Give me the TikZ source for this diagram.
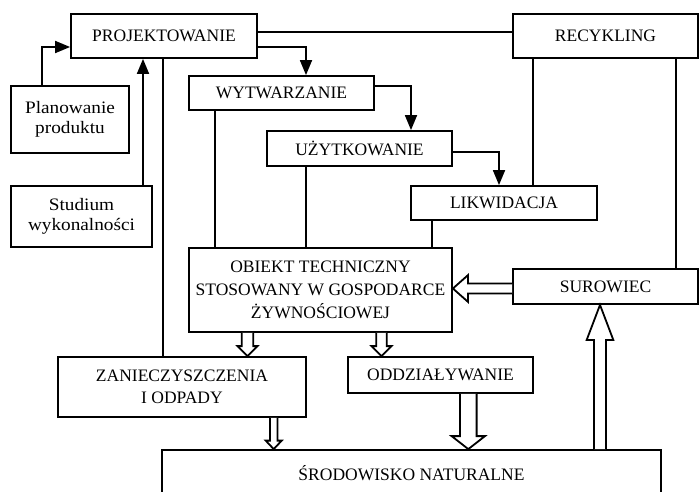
\documentclass[tikz,border=0pt]{standalone}
\usepackage{fontspec}
\setmainfont{Liberation Serif}
\newfontfamily\widefont[FakeStretch=1.1]{Liberation Serif}
\usetikzlibrary{arrows.meta,calc}

% hollow block arrows: #1 start, #2 end, #3 half shaft, #4 half head, #5 head length
\newcommand\hdown[5]{\draw[hollow] let \p1=(#1),\p2=(#2) in
  (\x1-#3pt,\y1) -- (\x1-#3pt,\y2+#5pt) -- (\x1-#4pt,\y2+#5pt) -- (\x1,\y2)
  -- (\x1+#4pt,\y2+#5pt) -- (\x1+#3pt,\y2+#5pt) -- (\x1+#3pt,\y1);}
\newcommand\hup[5]{\draw[hollow] let \p1=(#1),\p2=(#2) in
  (\x1-#3pt,\y1) -- (\x1-#3pt,\y2-#5pt) -- (\x1-#4pt,\y2-#5pt) -- (\x1,\y2)
  -- (\x1+#4pt,\y2-#5pt) -- (\x1+#3pt,\y2-#5pt) -- (\x1+#3pt,\y1);}
\newcommand\hleft[5]{\draw[hollow] let \p1=(#1),\p2=(#2) in
  (\x1,\y1+#3pt) -- (\x2+#5pt,\y1+#3pt) -- (\x2+#5pt,\y1+#4pt) -- (\x2,\y1)
  -- (\x2+#5pt,\y1-#4pt) -- (\x2+#5pt,\y1-#3pt) -- (\x1,\y1-#3pt);}

\begin{document}
\begin{tikzpicture}[x=1pt,y=-1pt,
  box/.style={draw,line width=1.8pt,inner sep=0pt,align=center,
    font=\fontsize{17.5}{21.5}\selectfont},
  lowbox/.style={box,font=\widefont\fontsize{17.5}{20.5}\selectfont},
  lnk/.style={line width=1.8pt},
  arr/.style={line width=1.8pt,-{Triangle[length=15pt,width=12pt]}},
  hollow/.style={draw,fill=white,line width=1.8pt,line join=miter}]

\useasboundingbox (0,0) rectangle (699,492);
\clip (0,0) rectangle (699,492);

% boxes
\node[box,minimum width=186,minimum height=44] (proj) at (164,36) {PROJEKTOWANIE};
\node[lowbox,minimum width=118,minimum height=67] (plan) at (70,119.5) {Planowanie\\produktu};
\node[lowbox,minimum width=141,minimum height=61] (stud) at (81.5,216.5) {Studium\\wykonalności};
\node[box,minimum width=185,minimum height=34] (wytw) at (281.5,93) {WYTWARZANIE};
\node[box,minimum width=185,minimum height=35] (uzyt) at (359.5,148.5) {UŻYTKOWANIE};
\node[box,minimum width=186,minimum height=34] (likw) at (504,203) {LIKWIDACJA};
\node[box,minimum width=185,minimum height=44] (recy) at (605.5,36) {RECYKLING};
\node[box,minimum width=263,minimum height=84,font=\fontsize{17.5}{23}\selectfont]
  (obj) at (320.5,290)
  {OBIEKT TECHNICZNY\\STOSOWANY W GOSPODARCE\\ŻYWNOŚCIOWEJ};
\node[box,minimum width=185,minimum height=35] (suro) at (605.5,286.5) {SUROWIEC};
\node[box,minimum width=248,minimum height=60] (zan) at (182,387) {ZANIECZYSZCZENIA\\I ODPADY};
\node[box,minimum width=185,minimum height=36] (oddz) at (440.5,375) {ODDZIAŁYWANIE};
\node[box,minimum width=499,minimum height=46] (srod) at (411.5,473) {ŚRODOWISKO NATURALNE};

% routing points
\coordinate (planUp) at (42,47);
\coordinate (studUp) at (143,0);
\coordinate (projDown) at (163,0);
\coordinate (toWytw) at (306,47);
\coordinate (toRecy) at (0,32);
\coordinate (wytwDown) at (215,0);
\coordinate (toUzyt) at (411,86);
\coordinate (uzytDown) at (306,0);
\coordinate (toLikw) at (499,152);
\coordinate (recyLikw) at (533,0);
\coordinate (recySuro) at (676,0);
\coordinate (likwDown) at (432,0);
\coordinate (rawIn) at (0,288.5);
\coordinate (wasteOut) at (247.5,0);
\coordinate (effectOut) at (381.5,0);
\coordinate (wasteEnv) at (273.7,0);
\coordinate (effectEnv) at (468.3,0);
\coordinate (envRaw) at (600,0);

% arrows
\draw[arr] (plan.north -| planUp) |- (proj.west |- planUp);
\draw[arr] (stud.north -| studUp) -- (proj.south -| studUp);
\draw[arr] (proj.east |- toWytw) -| (wytw.north -| toWytw);
\draw[arr] (wytw.east |- toUzyt) -| (uzyt.north -| toUzyt);
\draw[arr] (uzyt.east |- toLikw) -| (likw.north -| toLikw);

% plain links
\draw[lnk] (proj.south -| projDown) -- (zan.north -| projDown);
\draw[lnk] (proj.east |- toRecy) -- (recy.west |- toRecy);
\draw[lnk] (wytw.south -| wytwDown) -- (obj.north -| wytwDown);
\draw[lnk] (uzyt.south -| uzytDown) -- (obj.north -| uzytDown);
\draw[lnk] (recy.south -| recyLikw) -- (likw.north -| recyLikw);
\draw[lnk] (recy.south -| recySuro) -- (suro.north -| recySuro);
\draw[lnk] (likw.south -| likwDown) -- (obj.north -| likwDown);

% block arrows
\hleft{suro.west |- rawIn}{obj.east |- rawIn}{5}{13.3}{15}
\hdown{obj.south -| wasteOut}{zan.north -| wasteOut}{5.8}{10}{10}
\hdown{obj.south -| effectOut}{oddz.north -| effectOut}{5.3}{10}{10}
\hdown{zan.south -| wasteEnv}{srod.north -| wasteEnv}{3.8}{8}{8.5}
\hdown{oddz.south -| effectEnv}{srod.north -| effectEnv}{8.3}{16.7}{13}
\hup{srod.north -| envRaw}{suro.south -| envRaw}{6}{13.3}{35}
\end{tikzpicture}
\end{document}
